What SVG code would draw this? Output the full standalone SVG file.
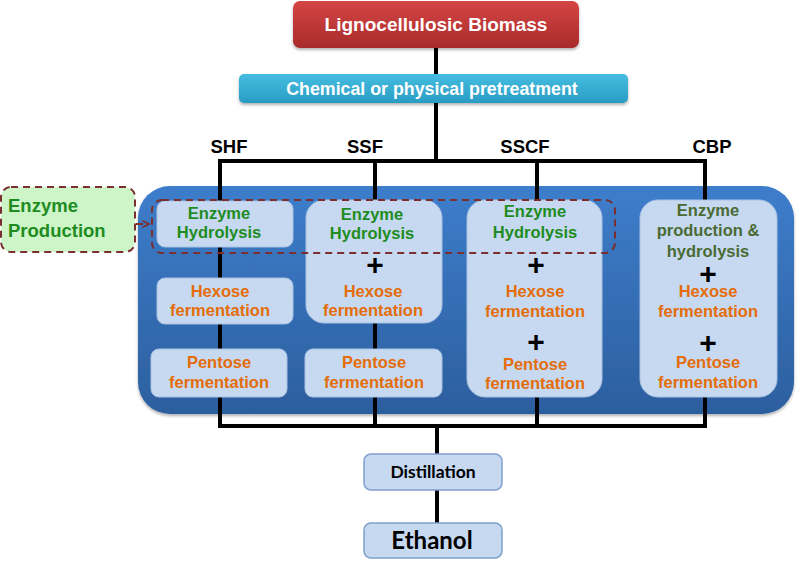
<svg xmlns="http://www.w3.org/2000/svg" width="797" height="562" viewBox="0 0 797 562">
<defs>
<linearGradient id="gRed" x1="0" y1="0" x2="0" y2="1"><stop offset="0" stop-color="#d54545"/><stop offset="1" stop-color="#a92b2b"/></linearGradient>
<linearGradient id="gCyan" x1="0" y1="0" x2="0" y2="1"><stop offset="0" stop-color="#45bde0"/><stop offset="1" stop-color="#2a9cc4"/></linearGradient>
<linearGradient id="gPanel" x1="0" y1="0" x2="0" y2="1"><stop offset="0" stop-color="#3e7dcb"/><stop offset="1" stop-color="#2c5f9f"/></linearGradient>
<filter id="sh" x="-10%" y="-10%" width="120%" height="130%"><feDropShadow dx="0" dy="2" stdDeviation="1.5" flood-color="#000" flood-opacity="0.3"/></filter>
<marker id="arr" viewBox="0 0 10 10" refX="9" refY="5" markerWidth="8" markerHeight="8" orient="auto" markerUnits="userSpaceOnUse"><path d="M1,1 L9,5 L1,9" fill="none" stroke="#7a2e2e" stroke-width="2"/></marker>
</defs>
<style>
.t{font-family:"Liberation Sans",Arial,sans-serif;font-weight:bold;text-anchor:middle}
.w{fill:#fff}
.g{fill:#1f8c1f;font-size:16.5px}
.o{fill:#e46c0a;font-size:16.5px}
.lab{fill:#000;font-size:18.5px}
.plus{fill:#000;font-size:30px}
.box{fill:#c6d9f1;stroke:#a9c2e3;stroke-width:1}
.cal{font-family:Lato,"Open Sans",sans-serif;font-weight:bold;text-anchor:middle;fill:#000}
.ln{stroke:#000;stroke-width:4;fill:none}
.dash{fill:none;stroke:#7a2e2e;stroke-width:2;stroke-dasharray:7 5}
.ep{font-family:"Liberation Sans",Arial,sans-serif;font-weight:bold;font-size:18.5px;fill:#1f8c1f;text-anchor:start}
</style>

<rect id="panel" x="138" y="186" width="656" height="228" rx="32" fill="url(#gPanel)" filter="url(#sh)"/>

<g id="connectors">
<path class="ln" d="M436,48 V74 M436,103 V161 M220,161 H705 M220,159 V426 M375,159 V426 M537,159 V426 M705,159 V426 M218,426 H707 M437,426 V454 M437,490 V523"/>
<path class="dash" d="M136,224 H149" marker-end="url(#arr)"/>
</g>

<g id="biomass">
<rect x="293" y="1" width="286" height="47" rx="7" fill="url(#gRed)" filter="url(#sh)"/>
<text class="t w" x="436" y="31" font-size="19">Lignocellulosic Biomass</text>
</g>

<g id="pretreatment">
<rect x="239" y="74" width="389" height="29" rx="5" fill="url(#gCyan)" filter="url(#sh)"/>
<text class="t w" x="432" y="95" font-size="17.8">Chemical or physical pretreatment</text>
</g>

<g id="labels">
<text class="t lab" x="229" y="153">SHF</text>
<text class="t lab" x="365" y="153">SSF</text>
<text class="t lab" x="525" y="153">SSCF</text>
<text class="t lab" x="712" y="153">CBP</text>
</g>

<g id="enzyme-production">
<rect x="1" y="187" width="134" height="65" rx="10" fill="#cdf5c8" stroke="#7a2e2e" stroke-width="2" stroke-dasharray="7 5"/>
<text class="ep" x="8" y="212">Enzyme</text>
<text class="ep" x="8" y="237">Production</text>
</g>

<g id="shf-hydrolysis">
<rect class="box" x="157" y="201" width="136" height="46" rx="8"/>
<text class="t g" x="219" y="219">Enzyme</text>
<text class="t g" x="219" y="238">Hydrolysis</text>
</g>
<g id="shf-hexose">
<rect class="box" x="157" y="278" width="136" height="46" rx="8"/>
<text class="t o" x="220" y="297">Hexose</text>
<text class="t o" x="220" y="316">fermentation</text>
</g>
<g id="shf-pentose">
<rect class="box" x="151" y="349" width="136" height="48" rx="8"/>
<text class="t o" x="219" y="368">Pentose</text>
<text class="t o" x="219" y="388">fermentation</text>
</g>

<g id="ssf-combined">
<rect class="box" x="306" y="200" width="136" height="123" rx="18"/>
<text class="t g" x="372" y="220">Enzyme</text>
<text class="t g" x="372" y="239">Hydrolysis</text>
<text class="t plus" x="375" y="275">+</text>
<text class="t o" x="373" y="297">Hexose</text>
<text class="t o" x="373" y="316">fermentation</text>
</g>
<g id="ssf-pentose">
<rect class="box" x="305" y="349" width="137" height="48" rx="8"/>
<text class="t o" x="374" y="368">Pentose</text>
<text class="t o" x="374" y="388">fermentation</text>
</g>

<g id="sscf">
<rect class="box" x="467" y="200" width="135" height="197" rx="18"/>
<text class="t g" x="535" y="217">Enzyme</text>
<text class="t g" x="535" y="238">Hydrolysis</text>
<text class="t plus" x="536" y="275">+</text>
<text class="t o" x="535" y="297">Hexose</text>
<text class="t o" x="535" y="317">fermentation</text>
<text class="t plus" x="536" y="352">+</text>
<text class="t o" x="535" y="370">Pentose</text>
<text class="t o" x="535" y="389">fermentation</text>
</g>

<g id="cbp">
<rect class="box" x="640" y="200" width="137" height="197" rx="18"/>
<text class="t" x="708" y="216" font-size="16.5" fill="#4a6b33">Enzyme</text>
<text class="t" x="708" y="236" font-size="16.5" fill="#4a6b33">production &amp;</text>
<text class="t" x="708" y="257" font-size="16.5" fill="#4a6b33">hydrolysis</text>
<text class="t plus" x="708" y="284">+</text>
<text class="t o" x="708" y="297">Hexose</text>
<text class="t o" x="708" y="317">fermentation</text>
<text class="t plus" x="708" y="353">+</text>
<text class="t o" x="708" y="368">Pentose</text>
<text class="t o" x="708" y="388">fermentation</text>
</g>

<rect id="hydrolysis-group" class="dash" x="152" y="200" width="463" height="53" rx="10"/>

<g id="distillation">
<rect x="364" y="454" width="138" height="36" rx="7" fill="#c6d9f1" stroke="#7f9fcb" stroke-width="1.5"/>
<text class="cal" x="433" y="478" font-size="17.5">Distillation</text>
</g>
<g id="ethanol">
<rect x="364" y="523" width="138" height="35" rx="7" fill="#c6d9f1" stroke="#7f9fcb" stroke-width="1.5"/>
<text class="cal" x="432" y="549" font-size="24">Ethanol</text>
</g>
</svg>
